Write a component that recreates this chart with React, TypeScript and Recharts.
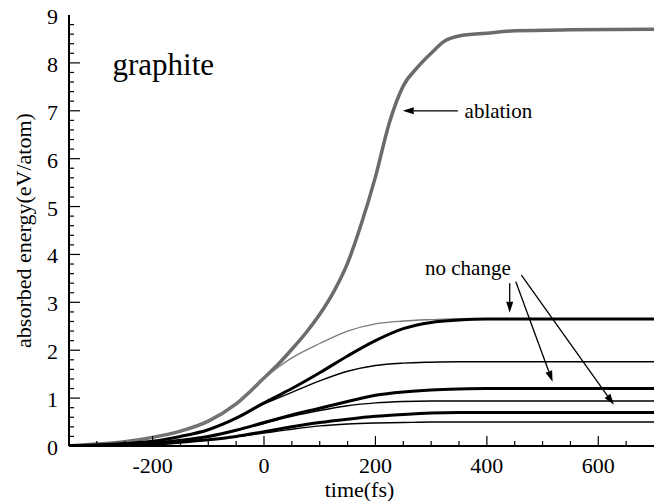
import React from "react";
import {
  LineChart,
  Line,
  XAxis,
  YAxis,
  ReferenceLine,
  ReferenceDot,
} from "recharts";

// ablation curve (fs, eV/atom)
const ablationTime = [-350, -300, -250, -200, -150, -100, -50, 0, 25, 50, 75, 100, 125, 150, 175, 200, 225, 250, 275, 300, 325, 350, 400, 450, 550, 700];
const ablationValue = [0, 0.04, 0.09, 0.18, 0.31, 0.52, 0.88, 1.42, 1.7, 2.02, 2.36, 2.75, 3.22, 3.82, 4.65, 5.62, 6.75, 7.52, 7.9, 8.2, 8.46, 8.56, 8.62, 8.67, 8.69, 8.7];

// shared time grid for the "no change" runs
const runTime = [-350, -300, -250, -200, -150, -100, -50, 0, 25, 50, 100, 150, 200, 250, 300, 350, 400, 500, 700];
const thinGrayValue = [0, 0.04, 0.09, 0.18, 0.31, 0.52, 0.88, 1.41, 1.64, 1.84, 2.14, 2.4, 2.55, 2.61, 2.64, 2.66, 2.66, 2.66, 2.66];
const thickAValue = [0, 0.02, 0.05, 0.1, 0.2, 0.34, 0.58, 0.9, 1.05, 1.2, 1.53, 1.88, 2.2, 2.45, 2.58, 2.63, 2.65, 2.65, 2.65];
const thinAValue = [0, 0.02, 0.05, 0.1, 0.2, 0.34, 0.57, 0.88, 1.0, 1.12, 1.36, 1.56, 1.68, 1.73, 1.75, 1.76, 1.76, 1.76, 1.76];
const thickBValue = [0, 0.01, 0.03, 0.06, 0.12, 0.2, 0.33, 0.49, 0.57, 0.65, 0.79, 0.93, 1.06, 1.13, 1.17, 1.19, 1.2, 1.2, 1.2];
const thinBValue = [0, 0.01, 0.03, 0.06, 0.12, 0.2, 0.32, 0.47, 0.55, 0.62, 0.74, 0.84, 0.9, 0.93, 0.94, 0.94, 0.94, 0.94, 0.94];
const thickCValue = [0, 0.01, 0.02, 0.04, 0.08, 0.13, 0.2, 0.3, 0.35, 0.4, 0.49, 0.56, 0.62, 0.66, 0.69, 0.7, 0.7, 0.7, 0.7];
const thinCValue = [0, 0.01, 0.02, 0.04, 0.08, 0.13, 0.19, 0.27, 0.31, 0.35, 0.42, 0.46, 0.48, 0.49, 0.5, 0.5, 0.5, 0.5, 0.5];

// axes
const xLabels = [-200, 0, 200, 400, 600];
const yLabels = [0, 1, 2, 3, 4, 5, 6, 7, 8, 9];
const xTicks = Array.from({ length: 20 }, (_, i) => -300 + i * 50);
const yTicks = Array.from({ length: 46 }, (_, i) => Math.round(i * 2) / 10);

const toPoints = (t: number[], v: number[]) => t.map((x, i) => ({ t: x, v: v[i] }));

const FONT = "Liberation Serif";
const serif = { fontFamily: FONT } as React.CSSProperties;

// inward tick marks, labels only on majors
const BottomTick = (p: any) => {
  const val = p.payload.value;
  const major = xLabels.includes(val);
  return (
    <g>
      <line x1={p.x} y1={p.y} x2={p.x} y2={p.y - (major ? 10 : 5)} stroke="#000" strokeWidth={1.2} />
      {major && (
        <text x={p.x} y={p.y + 27} textAnchor="middle" fontSize={22} fontFamily={FONT} style={serif} fill="#000">
          {val}
        </text>
      )}
    </g>
  );
};
const TopTick = (p: any) => {
  const major = xLabels.includes(p.payload.value);
  return <line x1={p.x} y1={p.y} x2={p.x} y2={p.y + (major ? 10 : 5)} stroke="#000" strokeWidth={1.2} />;
};
const LeftTick = (p: any) => {
  const val = p.payload.value;
  const major = yLabels.includes(val);
  return (
    <g>
      {val > 0 && val < 9 && (
        <line x1={p.x} y1={p.y} x2={p.x + (major ? 11 : 5)} y2={p.y} stroke="#000" strokeWidth={1.2} />
      )}
      {major && (
        <text x={p.x - 11} y={p.y + 9} textAnchor="end" fontSize={22} fontFamily={FONT} style={serif} fill="#000">
          {val}
        </text>
      )}
    </g>
  );
};
const RightTick = (p: any) => {
  const val = p.payload.value;
  if (val <= 0 || val >= 9) return <g />;
  const major = yLabels.includes(val);
  return <line x1={p.x} y1={p.y} x2={p.x - (major ? 11 : 5)} y2={p.y} stroke="#000" strokeWidth={1.2} />;
};

const Arrow = (p: any) => {
  const { x1, y1, x2, y2 } = p;
  const a = Math.atan2(y2 - y1, x2 - x1);
  const len = 11;
  const w = 3.5;
  const bx = x2 - len * Math.cos(a);
  const by = y2 - len * Math.sin(a);
  const ox = -Math.sin(a) * w;
  const oy = Math.cos(a) * w;
  return (
    <g>
      <line x1={x1} y1={y1} x2={bx} y2={by} stroke="#000" strokeWidth={1.3} />
      <polygon points={`${x2},${y2} ${bx + ox},${by + oy} ${bx - ox},${by - oy}`} fill="#000" />
    </g>
  );
};

const textAt = (label: string, size: number, anchor: string) => (p: any) => (
  <text x={p.cx} y={p.cy} fontSize={size} textAnchor={anchor} fontFamily={FONT} style={serif} fill="#000">
    {label}
  </text>
);

const series = [
  { name: "thinGray", v: thinGrayValue, stroke: "#7a7a7a", w: 1.3 },
  { name: "thickA", v: thickAValue, stroke: "#000", w: 3 },
  { name: "thinA", v: thinAValue, stroke: "#000", w: 1.4 },
  { name: "thickB", v: thickBValue, stroke: "#000", w: 3 },
  { name: "thinB", v: thinBValue, stroke: "#000", w: 1.4 },
  { name: "thickC", v: thickCValue, stroke: "#000", w: 3 },
  { name: "thinC", v: thinCValue, stroke: "#000", w: 1.4 },
];

export default function App() {
  return (
    <div style={{ position: "absolute", left: 0, top: 0, background: "#fff", fontFamily: FONT }}>
      <LineChart width={657} height={501} margin={{ top: 15, right: 3, left: 0, bottom: 0 }} style={serif}>
        <XAxis
          xAxisId="t"
          dataKey="t"
          type="number"
          domain={[-350, 700]}
          allowDataOverflow
          ticks={xTicks}
          interval={0}
          tickSize={0}
          tickMargin={0}
          tickLine={false}
          tick={<BottomTick />}
          height={55}
          axisLine={{ stroke: "#000", strokeWidth: 2 }}
          label={{
            content: (props: any) => {
              const vb = props.viewBox;
              return (
                <text x={vb.x + vb.width / 2 - 2} y={497} textAnchor="middle" fontSize={22} fontFamily={FONT} style={serif} fill="#000">
                  time(fs)
                </text>
              );
            },
          }}
        />
        <XAxis
          xAxisId="top"
          orientation="top"
          type="number"
          domain={[-350, 700]}
          allowDataOverflow
          ticks={xTicks}
          interval={0}
          tickSize={0}
          tickMargin={0}
          tickLine={false}
          tick={<TopTick />}
          height={0}
          axisLine={{ stroke: "#000", strokeWidth: 1.5 }}
        />
        <YAxis
          yAxisId="e"
          type="number"
          domain={[0, 9]}
          allowDataOverflow
          ticks={yTicks}
          interval={0}
          tickSize={0}
          tickMargin={0}
          tickLine={false}
          tick={<LeftTick />}
          width={69}
          axisLine={{ stroke: "#000", strokeWidth: 2 }}
          label={{
            content: (props: any) => {
              const vb = props.viewBox;
              const cy = vb.y + vb.height / 2;
              return (
                <text x={23} y={cy} transform={`rotate(-90 23 ${cy})`} textAnchor="middle" dominantBaseline="central" fontSize={22} fontFamily={FONT} style={serif} fill="#000">
                  absorbed energy(eV/atom)
                </text>
              );
            },
          }}
        />
        <YAxis
          yAxisId="r"
          orientation="right"
          type="number"
          domain={[0, 9]}
          allowDataOverflow
          ticks={yTicks}
          interval={0}
          tickSize={0}
          tickMargin={0}
          tickLine={false}
          tick={<RightTick />}
          width={0}
          axisLine={{ stroke: "#000", strokeWidth: 1.5 }}
        />

        <Line
          xAxisId="t"
          yAxisId="e"
          data={toPoints(ablationTime, ablationValue)}
          dataKey="v"
          type="monotone"
          stroke="#6b6b6b"
          strokeWidth={3.5}
          dot={false}
          isAnimationActive={false}
        />
        {series.map((s) => (
          <Line
            key={s.name}
            xAxisId="t"
            yAxisId="e"
            data={toPoints(runTime, s.v)}
            dataKey="v"
            type="monotone"
            stroke={s.stroke}
            strokeWidth={s.w}
            dot={false}
            isAnimationActive={false}
          />
        ))}

        <ReferenceLine xAxisId="t" yAxisId="e" segment={[{ x: 348, y: 7.0 }, { x: 249, y: 7.0 }]} shape={Arrow} />
        <ReferenceLine xAxisId="t" yAxisId="e" segment={[{ x: 441, y: 3.4 }, { x: 441, y: 2.78 }]} shape={Arrow} />
        <ReferenceLine xAxisId="t" yAxisId="e" segment={[{ x: 452, y: 3.43 }, { x: 518, y: 1.34 }]} shape={Arrow} />
        <ReferenceLine xAxisId="t" yAxisId="e" segment={[{ x: 462, y: 3.57 }, { x: 628, y: 0.86 }]} shape={Arrow} />

        <ReferenceDot xAxisId="t" yAxisId="e" x={-272} y={7.75} r={0} shape={textAt("graphite", 31, "start")} />
        <ReferenceDot xAxisId="t" yAxisId="e" x={360} y={6.85} r={0} shape={textAt("ablation", 21, "start")} />
        <ReferenceDot xAxisId="t" yAxisId="e" x={366} y={3.57} r={0} shape={textAt("no change", 21, "middle")} />
      </LineChart>
    </div>
  );
}
